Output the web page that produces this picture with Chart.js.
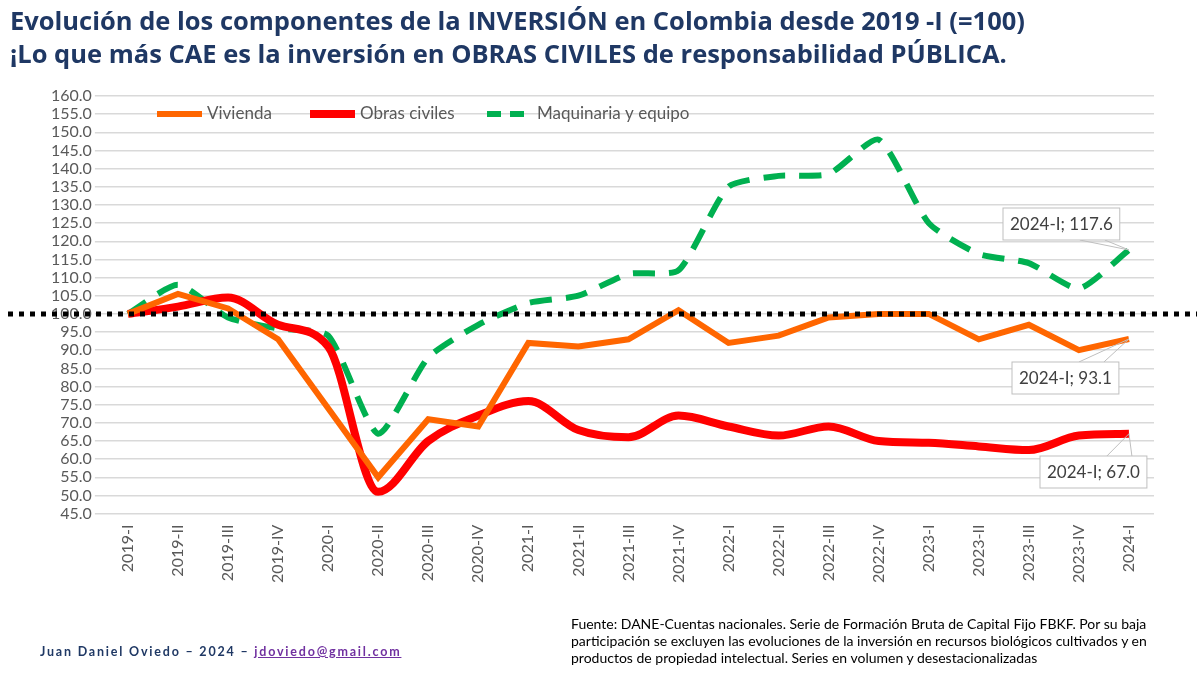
<!DOCTYPE html>
<html><head><meta charset="utf-8">
<script src="https://cdn.jsdelivr.net/npm/chart.js@4/dist/chart.umd.min.js"></script>
<style>
body{margin:0;width:1200px;height:675px;background:#fff;position:relative;overflow:hidden;font-family:Lato,"Open Sans",sans-serif}
#t{position:absolute;left:10px;top:4px;color:#1f3864;font-weight:bold;font-size:25.5px;line-height:33px;font-family:"Open Sans",sans-serif;white-space:nowrap}
#c{position:absolute;left:0;top:0}
#a{position:absolute;left:40px;top:644px;font-size:12.5px;font-weight:bold;color:#1f3864;letter-spacing:1.8px}
#a u{color:#7030a0}
#f{position:absolute;left:571px;top:615px;width:625px;font-size:14px;line-height:17px;color:#000}
</style></head><body>
<canvas id="c" width="1200" height="675"></canvas>
<div id="t">Evolución de los componentes de la INVERSIÓN en Colombia desde 2019 -I (=100)<br>¡Lo que más CAE es la inversión en OBRAS CIVILES de responsabilidad PÚBLICA.</div>
<div id="a">Juan Daniel Oviedo – 2024 – <u>jdoviedo@gmail.com</u></div>
<div id="f">Fuente: DANE-Cuentas nacionales. Serie de Formación Bruta de Capital Fijo FBKF. Por su baja participación se excluyen las evoluciones de la inversión en recursos biológicos cultivados y en productos de propiedad intelectual. Series en volumen y desestacionalizadas</div>
<script>
const categories=["2019-I","2019-II","2019-III","2019-IV","2020-I","2020-II","2020-III","2020-IV","2021-I","2021-II","2021-III","2021-IV","2022-I","2022-II","2022-III","2022-IV","2023-I","2023-II","2023-III","2023-IV","2024-I"];
const vivienda=[100,105.5,101.5,93,74,55,71,69,92,91,93,101,92,94,99,100,100,93,97,90,93.1];
const obras=[100,102,104.5,97,91,51,65,72,76,68,66,72,69,66.5,69,65,64.5,63.5,62.5,66.5,67.0];
const maquinaria=[100,108,99,96,94,67,88,97,103,105,111,112,135,138,138.5,148,125,116.5,114,107,117.6];
const callouts=[["2024-I; 117.6",2,20,1003,208],["2024-I; 93.1",0,20,1012,362],["2024-I; 67.0",1,20,1040,456]];
const extra={id:'extra',afterDatasetsDraw(ch){
 const c=ch.ctx,y=ch.scales.y;c.save();
 const yy=y.getPixelForValue(100);
 c.strokeStyle='#000';c.lineWidth=5;c.setLineDash([5,6]);
 c.beginPath();c.moveTo(8,yy);c.lineTo(1197,yy);c.stroke();c.setLineDash([]);
 const L=[["Vivienda","#ff6600",[],157],["Obras civiles","#ff0000",[],310],["Maquinaria y equipo","#00b050",[14,9],487]];
 c.font='17px Lato';c.textBaseline='middle';
 L.forEach(l=>{c.strokeStyle=l[1];c.lineWidth=l[1]=='#ff0000'?8:6;c.setLineDash(l[2]);c.beginPath();c.moveTo(l[3],114);c.lineTo(l[3]+45,114);c.stroke();c.setLineDash([]);c.fillStyle='#595959';c.fillText(l[0],l[3]+50,114);});
 c.font='17px Lato';
 callouts.forEach(k=>{const p=ch.getDatasetMeta(k[1]).data[k[2]];const w=c.measureText(k[0]).width+14,h=32,bx=k[3],by=k[4];
  c.fillStyle='#fff';c.strokeStyle='#bfbfbf';c.lineWidth=1;
  const tx=by<p.y?by+h:by;
  c.beginPath();c.moveTo(bx+w-40,tx);c.lineTo(p.x,p.y);c.lineTo(bx+w-15,tx);c.stroke();
  c.fillRect(bx,by,w,h);c.strokeRect(bx,by,w,h);
  c.fillStyle='#404040';c.fillText(k[0],bx+7,by+h/2+1);});
 c.restore();}};
new Chart(document.getElementById('c'),{type:'line',
data:{labels:categories,datasets:[
 {label:'Vivienda',data:vivienda,borderColor:'#ff6600',borderWidth:6,pointRadius:0,tension:0},
 {label:'Obras civiles',data:obras,borderColor:'#ff0000',borderWidth:8,pointRadius:0,cubicInterpolationMode:'monotone'},
 {label:'Maquinaria y equipo',data:maquinaria,borderColor:'#00b050',borderWidth:6,borderDash:[22,14],pointRadius:0,tension:0.2}]},
options:{responsive:false,animation:false,events:[],
 layout:{padding:{top:96,bottom:89,left:48,right:46}},
 plugins:{legend:{display:false},tooltip:{enabled:false}},
 scales:{x:{grid:{display:false},border:{display:false},offset:true,ticks:{color:'#595959',font:{size:16,family:'Lato'},maxRotation:90,minRotation:90}},
 y:{min:45,max:160,border:{display:false},grid:{color:'#d9d9d9',lineWidth:1.5},ticks:{stepSize:5,autoSkip:false,color:'#595959',font:{size:16,family:'Lato'},callback:v=>v.toFixed(1)}}}},
plugins:[extra]});
</script></body></html>
